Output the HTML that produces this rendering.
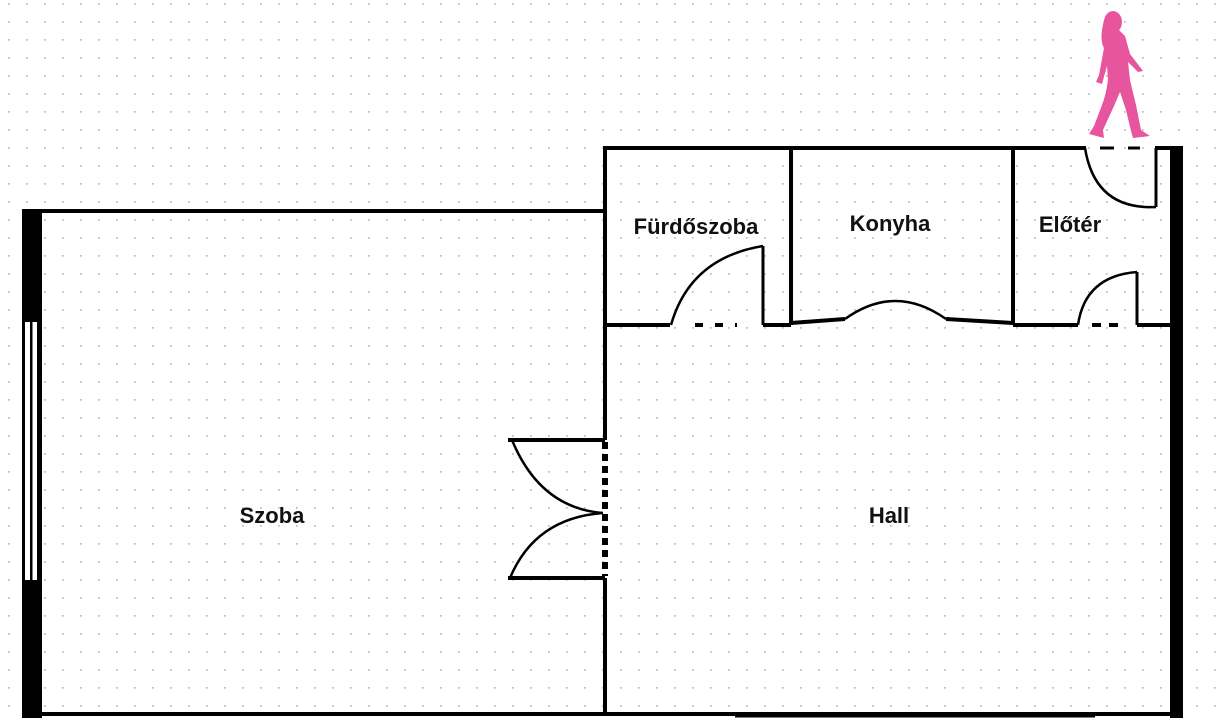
<!DOCTYPE html>
<html><head><meta charset="utf-8"><style>
html,body{margin:0;padding:0;background:#fff}
svg{display:block}
text{font-family:"Liberation Sans",sans-serif;font-weight:bold;font-size:22px;fill:#111}
</style></head><body>
<svg width="1220" height="720" viewBox="0 0 1220 720" xmlns="http://www.w3.org/2000/svg">
<defs><pattern id="d" x="8" y="3" width="18" height="18" patternUnits="userSpaceOnUse"><circle cx="0.9" cy="0.9" r="1" fill="#bdbdbd"/></pattern></defs>
<rect width="1220" height="720" fill="#fff"/>
<rect width="1220" height="720" fill="url(#d)"/>
<g stroke="#000" fill="none" stroke-width="4">
<line x1="22" y1="211" x2="605" y2="211"/>
<line x1="22" y1="714" x2="1180" y2="714"/>
<line x1="735" y1="716" x2="1095" y2="716" stroke-width="3"/>
<line x1="605" y1="146" x2="605" y2="440"/>
<line x1="605" y1="578" x2="605" y2="716"/>
<line x1="605" y1="442" x2="605" y2="576" stroke-width="6" stroke-dasharray="7,5"/>
<line x1="508" y1="440" x2="605" y2="440"/>
<line x1="508" y1="578" x2="605" y2="578"/>
<path d="M512 440 Q540 508 603 513" stroke-width="2.5"/>
<path d="M510 578 Q535 518 603 513" stroke-width="2.5"/>
<line x1="603" y1="148" x2="1086" y2="148"/>
<line x1="1100" y1="148" x2="1140" y2="148" stroke-dasharray="14,14" stroke-width="3"/>
<line x1="1155" y1="148" x2="1180" y2="148"/>
<line x1="1156" y1="148" x2="1156" y2="207" stroke-width="3"/>
<path d="M1085 148 Q1095 210 1156 207" stroke-width="2.5"/>
<line x1="791" y1="148" x2="791" y2="325"/>
<line x1="1013" y1="148" x2="1013" y2="325"/>
<line x1="605" y1="325" x2="670" y2="325"/>
<line x1="695" y1="325" x2="737" y2="325" stroke-dasharray="8,12"/>
<line x1="763" y1="325" x2="791" y2="325"/>
<line x1="763" y1="325" x2="763" y2="246" stroke-width="3"/>
<path d="M671 325 Q690 258 763 246" stroke-width="2.5"/>
<line x1="791" y1="323" x2="845" y2="319"/>
<path d="M845 319 Q895 283 946 319" stroke-width="2.5"/>
<line x1="946" y1="319" x2="1013" y2="323"/>
<line x1="1013" y1="325" x2="1078" y2="325"/>
<line x1="1092" y1="325" x2="1125" y2="325" stroke-dasharray="9,8"/>
<line x1="1137" y1="325" x2="1170" y2="325"/>
<line x1="1137" y1="325" x2="1137" y2="272" stroke-width="3"/>
<path d="M1078 325 Q1085 276 1137 272" stroke-width="2.5"/>
</g>
<rect x="1170" y="146" width="13" height="572" fill="#000"/>
<rect x="22" y="209" width="20" height="509" fill="#000"/>
<rect x="25" y="322" width="14" height="258" fill="#fff"/>
<rect x="30" y="322" width="2.5" height="258" fill="#000"/>
<rect x="22" y="322" width="3" height="258" fill="#000"/>
<rect x="37" y="322" width="5" height="258" fill="#000"/>
<text x="272" y="523" text-anchor="middle">Szoba</text>
<text x="889" y="523" text-anchor="middle">Hall</text>
<text x="696" y="234" text-anchor="middle">Fürdőszoba</text>
<text x="890" y="231" text-anchor="middle">Konyha</text>
<text x="1070" y="232" text-anchor="middle">Előtér</text>
<g fill="#e8559f">
<ellipse cx="1113" cy="22" rx="9" ry="11"/>
<path d="M1104 20 Q1099 40 1104 48 L1099 75 L1096 82 L1102 84 L1107 66 L1108 80 Q1106 95 1102 105 L1094 126 L1089 134 L1104 138 L1103 130 L1114 106 L1120 92 L1126 110 L1131 131 L1133 138 L1150 136 L1141 130 L1136 105 L1130 80 L1128 62 L1138 72 L1143 71 L1130 54 L1125 36 L1119 30 Z"/>
</g>
</svg>
</body></html>
